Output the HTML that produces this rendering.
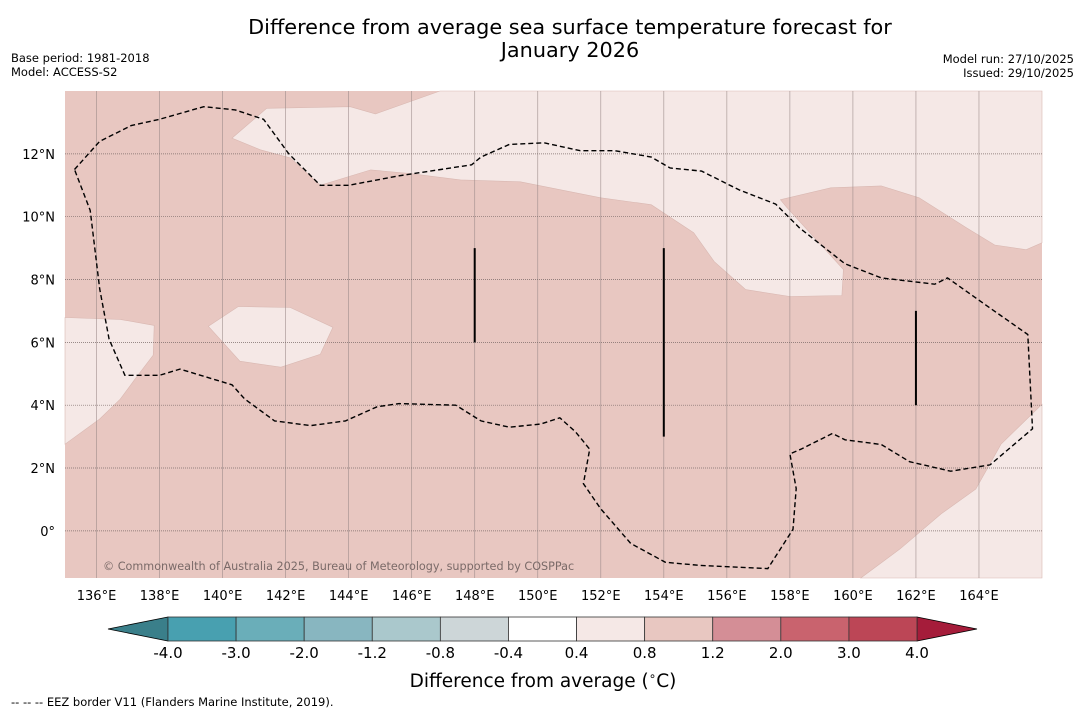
<!DOCTYPE html>
<html><head><meta charset="utf-8">
<style>
body{margin:0;background:#fff;font-family:"DejaVu Sans","Liberation Sans",sans-serif;}
svg{display:block}
</style></head><body>
<svg id="chart" width="1085" height="713" xmlns="http://www.w3.org/2000/svg" font-family="DejaVu Sans, Liberation Sans, sans-serif">
<text x="570" y="34" font-size="20.8" text-anchor="middle">Difference from average sea surface temperature forecast for</text>
<text x="570" y="57" font-size="20.8" text-anchor="middle">January 2026</text>
<text x="11" y="62" font-size="11.5">Base period: 1981-2018</text>
<text x="11" y="76" font-size="11.5">Model: ACCESS-S2</text>
<text x="1074" y="63" font-size="11.5" text-anchor="end">Model run: 27/10/2025</text>
<text x="1074" y="77" font-size="11.5" text-anchor="end">Issued: 29/10/2025</text>
<g id="map"></g>
<g id="cbar"></g>
<text x="543" y="687" font-size="18.5" text-anchor="middle">Difference from average (<tspan baseline-shift="super" font-size="12">∘</tspan>C)</text>
<text x="11" y="706" font-size="11.5">--  --  -- EEZ border V11 (Flanders Marine Institute, 2019).</text>
</svg>
<script>
const lonMin=135, lonMax=166, latMin=-1.5, latMax=14;
const X0=65, X1=1042, Y0=91, Y1=578;
const lonTicks=[136,138,140,142,144,146,148,150,152,154,156,158,160,162,164];
const latTicks=[0,2,4,6,8,10,12];
const cbLevels=[-4.0,-3.0,-2.0,-1.2,-0.8,-0.4,0.4,0.8,1.2,2.0,3.0,4.0];
const cbColors=["#48a0b0","#6aaeb9","#88b6c0","#aac8cc","#cdd6d8","#ffffff","#f5e8e6","#e8c7c1","#d48e96","#c9636e","#bc4656"];
const lightNorth=[[140.3,12.5],[141.4,13.45],[144.05,13.5],[144.85,13.27],[146.9,14],[166,14],[166,9.17],[165.5,8.95],[164.5,9.1],[163.6,9.65],[162.1,10.6],[160.9,10.98],[159.3,10.92],[157.7,10.54],[157.9,10.3],[159.7,8.32],[159.65,7.49],[158.0,7.46],[156.6,7.68],[155.6,8.57],[154.95,9.49],[153.6,10.38],[152.0,10.6],[149.45,11.11],[147.55,11.17],[145.95,11.37],[144.7,11.49],[143.1,11.0],[142.15,11.87],[141.2,12.13]];
const lightWest=[[135,6.79],[136.75,6.73],[137.83,6.54],[137.8,5.59],[137.22,4.83],[136.75,4.19],[136.1,3.56],[135,2.76]];
const lightIsle=[[139.55,6.51],[140.5,7.14],[142.15,7.11],[143.5,6.48],[143.1,5.62],[141.85,5.21],[140.55,5.4]];
const lightSE=[[166,4.03],[164.7,2.76],[163.9,1.33],[162.8,0.54],[161.5,-0.57],[160.25,-1.5],[166,-1.5]];
const eez=[[135.3,11.5],[136.1,12.4],[137.1,12.9],[138.0,13.1],[139.4,13.5],[140.4,13.4],[141.3,13.1],[142.1,12.0],[143.1,11.0],[144.0,11.0],[145.6,11.3],[147.9,11.65],[148.2,11.9],[149.1,12.3],[150.2,12.35],[151.35,12.1],[152.45,12.1],[153.6,11.9],[154.2,11.55],[155.2,11.45],[156.4,10.85],[157.55,10.4],[158.3,9.65],[159.75,8.5],[160.9,8.05],[162.6,7.85],[163.0,8.05],[164.2,7.2],[165.55,6.25],[165.7,3.25],[164.35,2.1],[163.1,1.9],[161.8,2.2],[160.9,2.75],[159.75,2.9],[159.35,3.1],[158.35,2.6],[158.0,2.45],[158.2,1.35],[158.1,0.05],[157.3,-1.2],[155.15,-1.1],[154.05,-1.0],[152.95,-0.4],[152.0,0.7],[151.45,1.5],[151.65,2.6],[151.2,3.15],[150.7,3.6],[150.1,3.4],[149.1,3.3],[148.2,3.5],[147.4,4.0],[145.6,4.05],[144.9,3.95],[143.9,3.5],[142.8,3.35],[141.65,3.5],[140.7,4.2],[140.3,4.65],[138.65,5.15],[138.0,4.95],[136.9,4.95],[136.4,6.1],[136.1,7.7],[135.8,10.2],[135.3,11.5]];
const segLon=[148,154,162];
const segLatTop=[9,9,7];
const segLatBot=[6,3,4];

const NS="http://www.w3.org/2000/svg";
const sx=l=>X0+(l-lonMin)/(lonMax-lonMin)*(X1-X0);
const sy=l=>Y0+(latMax-l)/(latMax-latMin)*(Y1-Y0);
function mk(t,a,p){const e=document.createElementNS(NS,t);for(const k in a)e.setAttribute(k,a[k]);p.appendChild(e);return e;}
const map=document.getElementById('map');
let bg=mk('rect',{x:X0,y:Y0,width:X1-X0,height:Y1-Y0,fill:"#e8c7c1"},map);


const pts=a=>a.map(p=>sx(p[0]).toFixed(1)+","+sy(p[1]).toFixed(1)).join(" ");
[["light-region-north",lightNorth],["light-region-west",lightWest],["light-region-island",lightIsle],["light-region-southeast",lightSE]].forEach(([n,a])=>{
  const e=mk('polygon',{points:pts(a),fill:"#f5e8e6",stroke:"#d9b8b2","stroke-width":0.6},map);
  
  
});
lonTicks.forEach(l=>{
  const e=mk('line',{x1:sx(l),x2:sx(l),y1:Y0,y2:Y1,stroke:"#9a8a88","stroke-width":0.7,"stroke-opacity":0.8},map);
  
  
  const t=mk('text',{x:sx(l),y:600,"font-size":13,"text-anchor":"middle"},document.getElementById('chart'));
  t.textContent=l+"°E";
  
  
});
latTicks.forEach(l=>{
  const e=mk('line',{x1:X0,x2:X1,y1:sy(l),y2:sy(l),stroke:"#7a6a68","stroke-width":0.7,"stroke-dasharray":"1,1"},map);
  
  
  const t=mk('text',{x:55,y:sy(l)+5,"font-size":13,"text-anchor":"end"},document.getElementById('chart'));
  t.textContent=l===0?"0°":l+"°N";
  
  
});
let ez=mk('polyline',{points:pts(eez),fill:"none",stroke:"#000","stroke-width":1.4,"stroke-dasharray":"5,3"},map);


segLon.forEach((l,i)=>{
  const e=mk('line',{x1:sx(l),x2:sx(l),y1:sy(segLatTop[i]),y2:sy(segLatBot[i]),stroke:"#000","stroke-width":2},map);
  
  
});
let cr=mk('text',{x:103,y:570,"font-size":11.2,fill:"#7a6a68"},map);
cr.textContent="© Commonwealth of Australia 2025, Bureau of Meteorology, supported by COSPPac";



const cb=document.getElementById('cbar');
const CX0=168, CX1=917, CY=617, CH=24;
const n=cbColors.length, cw=(CX1-CX0)/n;
let tl=mk('polygon',{points:`${CX0},${CY} ${108},${CY+CH/2} ${CX0},${CY+CH}`,fill:"#3a7f8a",stroke:"#000","stroke-width":0.8},cb);


let tr=mk('polygon',{points:`${CX1},${CY} ${977},${CY+CH/2} ${CX1},${CY+CH}`,fill:"#a51c3a",stroke:"#000","stroke-width":0.8},cb);


cbColors.forEach((c,i)=>{
  const e=mk('rect',{x:CX0+i*cw,y:CY,width:cw,height:CH,fill:c,stroke:"#333","stroke-width":0.8},cb);
  
  
});
cbLevels.forEach((v,i)=>{
  const t=mk('text',{x:CX0+i*cw,y:658,"font-size":15,"text-anchor":"middle"},cb);
  t.textContent=v.toFixed(1);
  
  
});
</script>
</body></html>
